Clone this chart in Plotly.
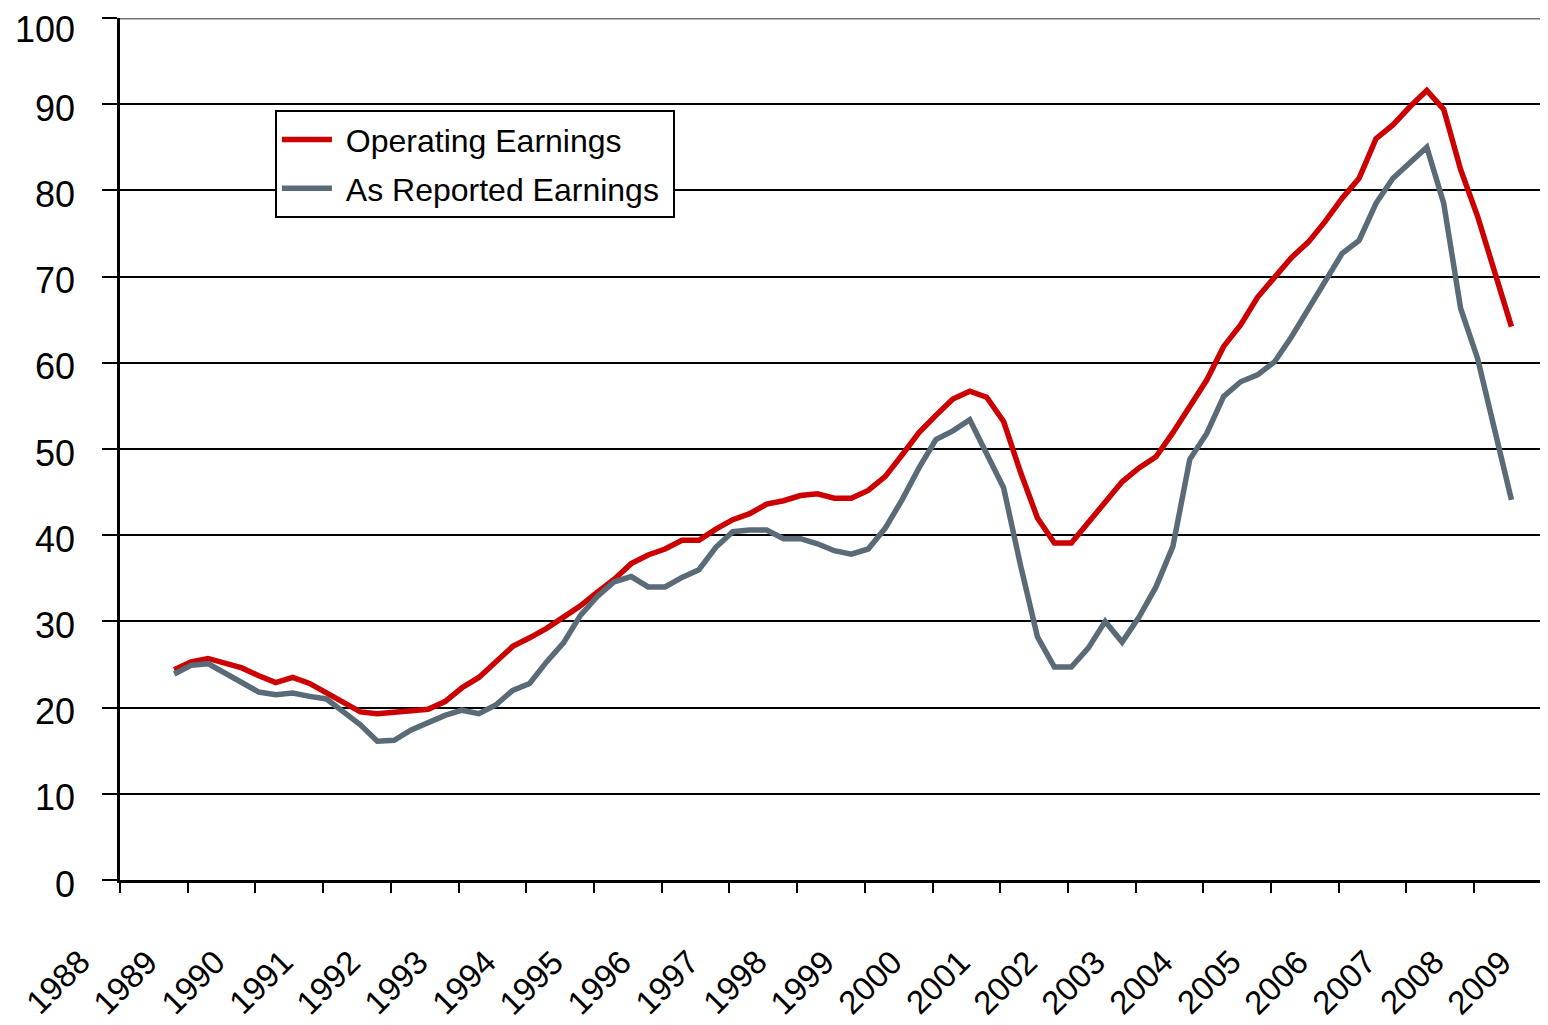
import plotly.graph_objects as go

# Quarterly trailing earnings (index 0 = first quarter plotted)
operating = [24.4, 25.3, 25.7, 25.2, 24.6, 23.7, 22.9, 23.5, 22.8, 21.7,
             20.6, 19.5, 19.3, 19.5, 19.7, 19.8, 20.7, 22.3, 23.5, 25.3,
             27.1, 28.1, 29.2, 30.5, 31.8, 33.4, 34.9, 36.7, 37.7, 38.4,
             39.4, 39.4, 40.7, 41.8, 42.5, 43.6, 44.0, 44.6, 44.8, 44.3,
             44.3, 45.2, 46.8, 49.3, 51.9, 53.9, 55.8, 56.7, 56.0, 53.2,
             47.3, 42.0, 39.1, 39.1, 41.4, 43.9, 46.2, 47.8, 49.1, 51.9,
             55.0, 58.0, 61.9, 64.4, 67.6, 69.9, 72.2, 74.0, 76.4, 79.1,
             81.4, 86.0, 87.6, 89.7, 91.6, 89.4, 82.4, 77.0, 70.4, 64.2]

reported = [23.9, 24.9, 25.1, 24.0, 22.9, 21.8, 21.5, 21.7, 21.3, 21.0,
            19.5, 18.0, 16.1, 16.2, 17.4, 18.3, 19.1, 19.7, 19.3, 20.3,
            22.0, 22.8, 25.3, 27.5, 30.7, 32.9, 34.6, 35.2, 34.0, 34.0,
            35.1, 36.0, 38.6, 40.4, 40.6, 40.6, 39.6, 39.6, 39.0, 38.2,
            37.8, 38.4, 40.8, 44.1, 47.8, 51.1, 52.1, 53.4, 49.5, 45.5,
            36.5, 28.2, 24.7, 24.7, 26.9, 30.0, 27.6, 30.5, 34.0, 38.7,
            48.8, 51.8, 56.1, 57.8, 58.6, 60.1, 63.0, 66.3, 69.6, 72.7,
            74.2, 78.5, 81.4, 83.1, 85.0, 78.5, 66.3, 60.5, 52.2, 44.1]

year_labels = [str(y) for y in range(1988, 2010)]
y_ticks = list(range(0, 101, 10))

first_quarter_pos = 1988.8
quarter_step = 0.25
x_pos = [first_quarter_pos + quarter_step * k for k in range(len(operating))]
year_pos = [int(s) for s in year_labels]
x_range = [1988, 2009.09]
y_range = [0, 100]

FONT = "Liberation Sans, Arial, sans-serif"

fig = go.Figure()
fig.add_trace(go.Scatter(x=x_pos, y=operating, mode="lines",
                         name="\u00a0Operating Earnings\u00a0",
                         line=dict(color="#CC0000", width=5.5), legendgroup="a"))
fig.add_trace(go.Scatter(x=x_pos, y=reported, mode="lines",
                         name="\u00a0As Reported Earnings\u00a0",
                         line=dict(color="#5A6B78", width=5.5), legendgroup="b"))

fig.update_layout(
    width=1540, height=1017,
    margin=dict(l=112, r=0, t=10, b=145, autoexpand=False),
    paper_bgcolor="white", plot_bgcolor="white",
    font=dict(family=FONT, color="black"),
    showlegend=True,
    legend=dict(x=0.1085, y=0.893, xanchor="left", yanchor="top",
                bordercolor="black", borderwidth=2, bgcolor="white",
                font=dict(size=32, family=FONT), tracegroupgap=4,
                itemwidth=50),
    xaxis=dict(range=x_range, tickvals=year_pos, showticklabels=False,
               ticks="outside", ticklen=10, tickwidth=2, tickcolor="black",
               showline=True, linecolor="black", linewidth=3, showgrid=False,
               zeroline=False, automargin=False),
    yaxis=dict(range=y_range, tickvals=y_ticks, showticklabels=False,
               ticks="outside", ticklen=15,
               tickwidth=2, tickcolor="black", showline=True, linecolor="black",
               linewidth=3, showgrid=True, gridcolor="black", gridwidth=2,
               zeroline=False, automargin=False),
)

# y value labels, sitting slightly below their grid lines as in the reference
for v in y_ticks:
    at_top = v == y_range[1]
    fig.add_annotation(x=0, y=v, xref="paper", yref="y", text=str(v),
                       showarrow=False, xanchor="right",
                       yanchor="top" if at_top else "middle",
                       xshift=-44, yshift=10 if at_top else -4, borderpad=0,
                       font=dict(size=36, family=FONT, color="black"))

# rotated year labels, centred below-left of each tick mark
for yr, lab in zip(year_pos, year_labels):
    fig.add_annotation(x=yr, y=0, xref="x", yref="paper", text=lab,
                       textangle=-45, showarrow=False, xanchor="center",
                       yanchor="middle", xshift=-63, yshift=-102,
                       font=dict(size=33, family=FONT, color="black"))

# top boundary line drawn in grey as in the reference
fig.add_shape(type="line", xref="paper", yref="y", x0=0, x1=1,
              y0=y_range[1], y1=y_range[1],
              line=dict(color="#777777", width=3), layer="above")

fig.write_html("out.html")
